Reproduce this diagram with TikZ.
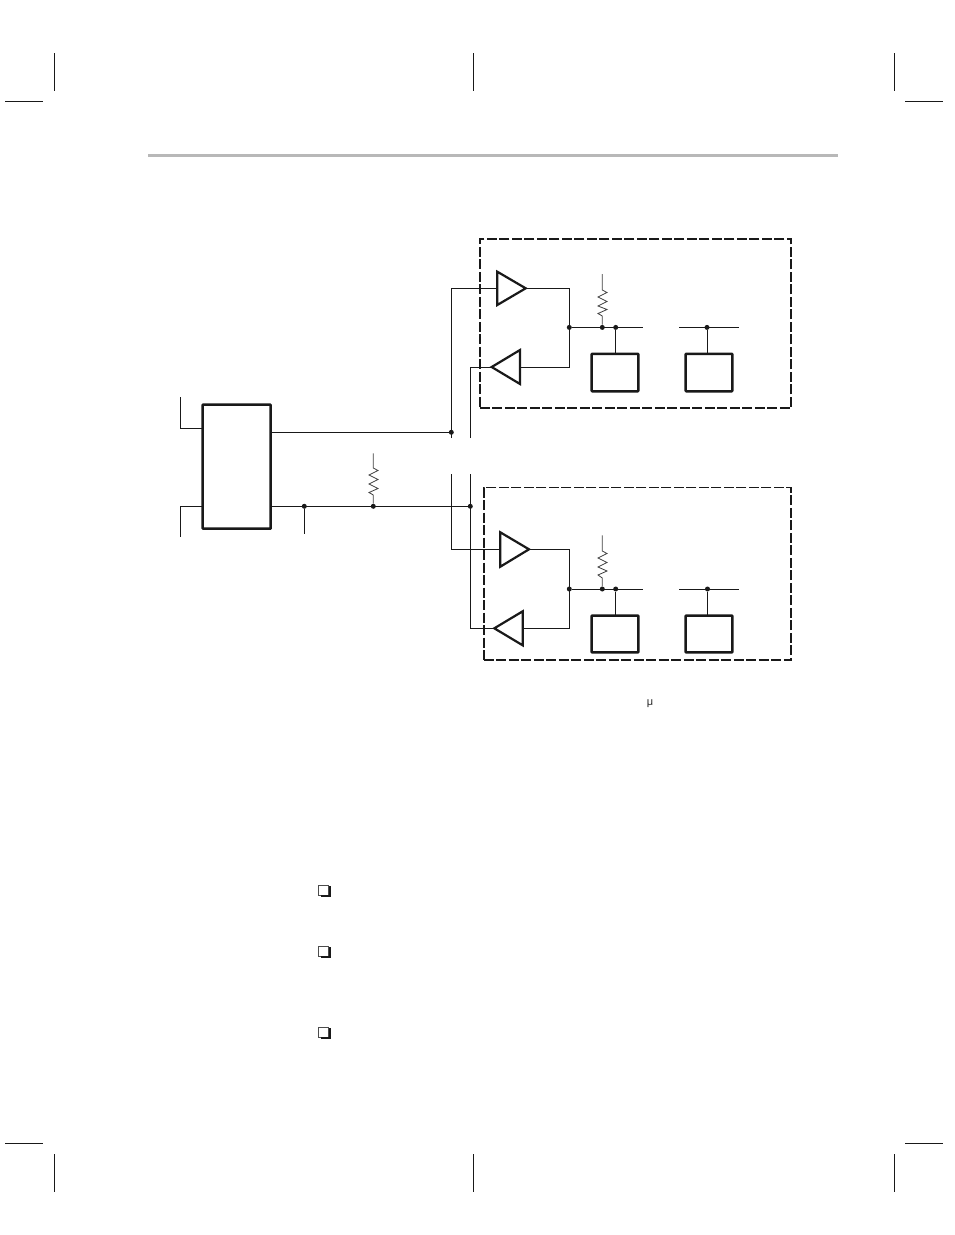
\documentclass[tikz,border=0pt]{standalone}
\usepackage{fontspec}
\setmainfont{Liberation Sans}
\tikzset{
  x=1pt,y=-1pt,
  wire/.style={line width=1pt,black!90},
  thinwire/.style={line width=0.8pt,black!75},
  chip/.style={draw=black!90,line width=2.5pt,rounded corners=0.6pt,inner sep=0pt,outer sep=0pt},
  buffer/.style={draw=black!90,line width=2.2pt,line join=miter,fill=white},
  zone/.style={draw=black!90,line width=1.7pt,dash pattern=on 10pt off 2.5pt},
  dotnode/.style={circle,fill=black!90,inner sep=0pt,minimum size=5pt},
  crop/.style={line width=1pt,black!90},
}
\begin{document}
\begin{tikzpicture}
\useasboundingbox (0,0) rectangle (954,1235);
% crop marks
\foreach \cx/\cn in {54.3/p,473/q,894.5/r}{
  \coordinate (ta\cn) at (\cx,53); \coordinate (tb\cn) at (\cx,91);
  \coordinate (ba\cn) at (\cx,1154); \coordinate (bb\cn) at (\cx,1192);
  \draw[crop] (ta\cn) -- (tb\cn);
  \draw[crop] (ba\cn) -- (bb\cn);
}
\foreach \cy/\cn in {101/p,1143.3/q}{
  \coordinate (la\cn) at (5,\cy); \coordinate (lb\cn) at (43,\cy);
  \coordinate (ra\cn) at (905,\cy); \coordinate (rb\cn) at (943,\cy);
  \draw[crop] (la\cn) -- (lb\cn);
  \draw[crop] (ra\cn) -- (rb\cn);
}
% header bar
\coordinate (barL) at (148,155.5); \coordinate (barR) at (838,155.5);
\draw[line width=3pt,black!28] (barL) -- (barR);

% zones
\node[zone,minimum width=311.5pt,minimum height=169pt,inner sep=0pt,outer sep=0pt] (zoneA) at (635.5,323.3) {};
\node[zone,minimum width=307.5pt,minimum height=172.5pt,inner sep=0pt,outer sep=0pt] (zoneB) at (637.5,573.8) {};

% left chip
\node[chip,minimum width=68pt,minimum height=124pt] (ctl) at (236.7,466.7) {};
\coordinate (tlTop) at (180.3,397.3); \coordinate (tlMid) at (180.3,428.3); \coordinate (tlEnd) at (202.7,428.3);
\coordinate (blBot) at (180.3,536.7); \coordinate (blMid) at (180.3,506.3); \coordinate (blEnd) at (202.7,506.3);
\draw[wire] (tlTop) -- (tlMid) -- (tlEnd);
\draw[wire] (blBot) -- (blMid) -- (blEnd);
\coordinate (outA) at (270.7,432.3); \coordinate (outB) at (270.7,506.3);
\node[dotnode] (dA) at (451.3,432.3) {};
\node[dotnode] (dB) at (470.3,506.3) {};
\node[dotnode] (dC) at (304.3,506.3) {};
\node[dotnode] (dR) at (373.3,506.3) {};
\coordinate (dCend) at (304.3,534);
\draw[wire] (outA) -- (dA);
\draw[wire] (outB) -- (dB);
\draw[wire] (dC) -- (dCend);
% shared resistor
\coordinate (rTop) at (373.3,453.3);
\draw[thinwire] (rTop) -- (373.3,468) -- (378,470.5) -- (369,475) -- (378,479.5) -- (369,484) -- (378,488.5) -- (369,492.5) -- (373.3,495) -- (dR);

% bus stubs
\coordinate (busA1) at (451.3,438);  \coordinate (busB1) at (470.3,438);
\coordinate (busA2) at (451.3,474);  \coordinate (busB2) at (470.3,474);

% --- upper module
\coordinate (uT1a) at (497.3,271.7); \coordinate (uT1b) at (497.3,305); \coordinate (uT1t) at (525.7,288.3);
\coordinate (uT1i) at (497.3,288.3);
\coordinate (uT2a) at (520,350); \coordinate (uT2b) at (520,384); \coordinate (uT2t) at (491.7,367);
\coordinate (uT2i) at (520,367);
\coordinate (uTurn1) at (451.3,288.3); \coordinate (uTurn2) at (470.3,367);
\coordinate (uV1) at (569.3,288.3); \coordinate (uV2) at (569.3,367);
\draw[wire] (busA1) -- (uTurn1) -- (uT1i);
\draw[wire] (busB1) -- (uTurn2) -- (uT2t);
\draw[wire] (uT1t) -- (uV1) -- (uV2) -- (uT2i);
\draw[buffer] (uT1a) -- (uT1t) -- (uT1b) -- cycle;
\draw[buffer] (uT2a) -- (uT2t) -- (uT2b) -- cycle;
\node[dotnode] (uJ1) at (569.3,327.4) {};
\node[dotnode] (uJ2) at (602.3,327.4) {};
\node[dotnode] (uJ3) at (615.7,327.4) {};
\node[dotnode] (uJ4) at (707,327.4) {};
\coordinate (uE1) at (643,327.4); \coordinate (uE2) at (679,327.4); \coordinate (uE3) at (738.7,327.4);
\draw[wire] (uJ1) -- (uE1);
\draw[wire] (uE2) -- (uE3);
\node[chip,minimum width=46.6pt,minimum height=37.3pt] (uB1) at (615,372.6) {};
\node[chip,minimum width=46.6pt,minimum height=37.3pt] (uB2) at (709,372.6) {};
\draw[wire] (uJ3) -- (uJ3 |- uB1.north);
\draw[wire] (uJ4) -- (uJ4 |- uB2.north);
\coordinate (uRt) at (602.3,274);
\draw[thinwire] (uRt) -- (602.3,290) -- (607,292.5) -- (598,297) -- (607,301.5) -- (598,306) -- (607,309.5) -- (598,313.5) -- (602.3,316) -- (uJ2);

% --- lower module
\coordinate (lT1a) at (500.3,532.3); \coordinate (lT1b) at (500.3,566.7); \coordinate (lT1t) at (529,549.3);
\coordinate (lT1i) at (500.3,549.3);
\coordinate (lT2a) at (522.7,611.3); \coordinate (lT2b) at (522.7,645.3); \coordinate (lT2t) at (494.3,628.3);
\coordinate (lT2i) at (522.7,628.3);
\coordinate (lTurn1) at (451.3,549.3); \coordinate (lTurn2) at (470.3,628.3);
\coordinate (lV1) at (569.3,549.3); \coordinate (lV2) at (569.3,628.3);
\draw[wire] (busA2) -- (lTurn1) -- (lT1i);
\draw[wire] (busB2) -- (lTurn2) -- (lT2t);
\draw[wire] (lT1t) -- (lV1) -- (lV2) -- (lT2i);
\draw[buffer] (lT1a) -- (lT1t) -- (lT1b) -- cycle;
\draw[buffer] (lT2a) -- (lT2t) -- (lT2b) -- cycle;
\node[dotnode] (lJ1) at (569.3,589) {};
\node[dotnode] (lJ2) at (602.3,589) {};
\node[dotnode] (lJ3) at (615.7,589) {};
\node[dotnode] (lJ4) at (707.5,589) {};
\coordinate (lE1) at (643,589); \coordinate (lE2) at (679,589); \coordinate (lE3) at (738.7,589);
\draw[wire] (lJ1) -- (lE1);
\draw[wire] (lE2) -- (lE3);
\node[chip,minimum width=46.6pt,minimum height=36.6pt] (lB1) at (615,634) {};
\node[chip,minimum width=46.6pt,minimum height=36.6pt] (lB2) at (709,634) {};
\draw[wire] (lJ3) -- (lJ3 |- lB1.north);
\draw[wire] (lJ4) -- (lJ4 |- lB2.north);
\coordinate (lRt) at (602.3,535.3);
\draw[thinwire] (lRt) -- (602.3,551) -- (607,553.5) -- (598,558) -- (607,562.5) -- (598,567) -- (607,571) -- (598,575) -- (602.3,578) -- (lJ2);

% mu
\node[font=\fontsize{11}{11}\selectfont,inner sep=0pt,text=black!85] (mu) at (650,703.5) {μ};

% bullets
\foreach \by in {890.5,951.5,1032.5}{
  \draw[line width=0.8pt,black!70] (318.7,\by-5.5) rectangle (328.7,\by+4.5);
  \draw[line width=1.8pt,black!90] (330,\by-4.5) -- (330,\by+5.6) -- (320.5,\by+5.6);
}
\end{tikzpicture}
\end{document}
